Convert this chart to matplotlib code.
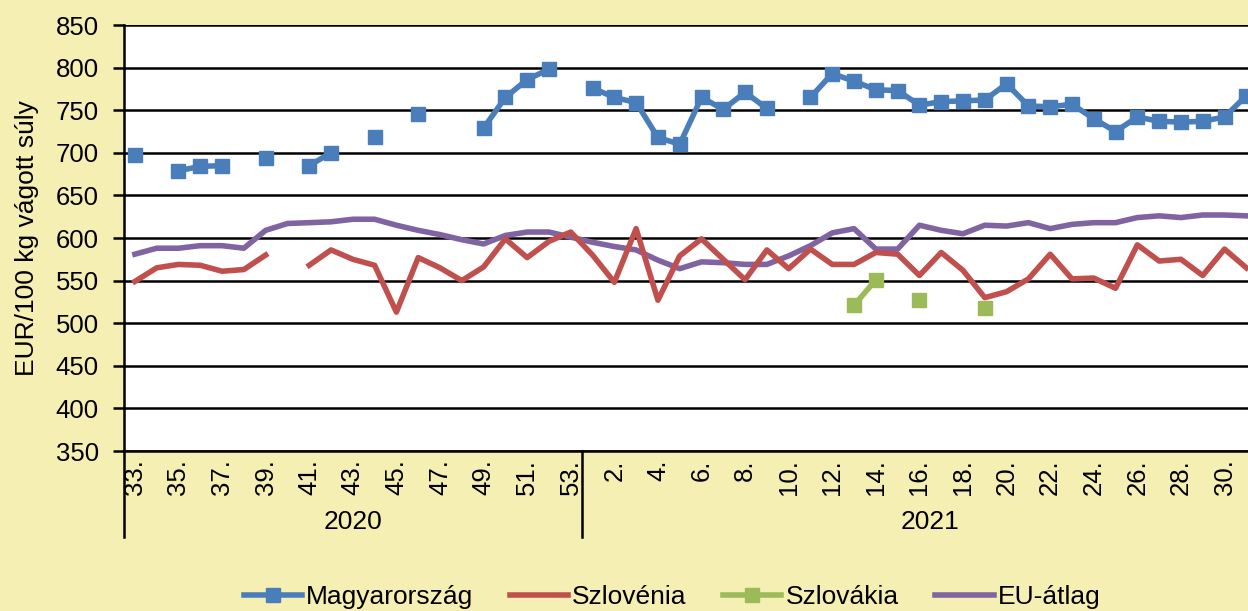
"""Weekly carcass price chart: Hungary, Slovenia, Slovakia and EU average."""

import numpy as np
from matplotlib import pyplot as plt
from matplotlib import transforms

plt.rcParams['font.family'] = ['Liberation Sans', 'DejaVu Sans']

# categories
weeks_2020 = list(range(33, 54))
weeks_2021 = list(range(1, 33))

# EUR/100 kg, one value per week (None = no quotation)
hu_2020 = [697, None, 679, 684, 685, None, 694, None, 685, 700, None, 718, None,
           746, None, None, 729, 765, 786, 798, None]
hu_2021 = [776, 765, 759, 718, 710, 765, 751, 771, 752, None, 765, 793, 784, 774,
           773, 756, 760, 761, 762, 781, 755, 754, 757, 740, 725, 742, 737, 736,
           737, 742, 767, None]

si_2020 = [549, 565, 569, 568, 561, 563, 580, None, 568, 586, 575, 568, 513, 577,
           565, 550, 566, 599, 577, 596, 607]
si_2021 = [580, 548, 611, 527, 579, 599, 575, 551, 586, 564, 587, 569, 569, 583,
           581, 556, 583, 562, 530, 537, 552, 581, 552, 553, 541, 592, 573, 575,
           556, 587, 565, None]

sk_2020 = [None] * 21
sk_2021 = [None] * 12 + [521, 551, None, 527, None, None, 518] + [None] * 13

eu_2020 = [581, 588, 588, 591, 591, 588, 609, 617, 618, 619, 622, 622, 615, 609,
           604, 598, 593, 603, 607, 607, 601]
eu_2021 = [595, 590, 586, 574, 564, 572, 571, 569, 569, 579, 591, 606, 611, 587,
           587, 615, 609, 605, 615, 614, 618, 611, 616, 618, 618, 624, 626, 624,
           627, 627, 626, None]

years = ['2020', '2021']
y_ticks = list(range(350, 851, 50))


def series(a, b):
    return np.array([np.nan if v is None else v for v in a + b], dtype=float)


BG = '#F5EFB3'
W, H = 1248, 611

fig = plt.figure(figsize=(W / 100, H / 100), dpi=100, facecolor=BG)
# plot area runs past the right edge of the figure
ax = fig.add_axes([124 / W, (H - 451) / H, (1279 - 124) / W, (451 - 25) / H])
ax.set_facecolor('white')

labels = [f'{w}.' for w in weeks_2020] + [f'{w}.' for w in weeks_2021]
x = np.arange(len(labels))

ax.plot(x, series(hu_2020, hu_2021), color='#4A7EBB', lw=4, marker='s',
        ms=10.5, mec='#4A7EBB', label='Magyarország', zorder=5)
ax.plot(x, series(si_2020, si_2021), color='#C0504D', lw=4,
        label='Szlovénia', zorder=3)
ax.plot(x, series(sk_2020, sk_2021), color='#9BBB59', lw=4, marker='s',
        ms=10.5, mec='#9BBB59', label='Szlovákia', zorder=4)
ax.plot(x, series(eu_2020, eu_2021), color='#8064A2', lw=4,
        label='EU-átlag', zorder=2)

ax.set_ylim(350, 850)
ax.set_xlim(-0.5, len(labels) - 0.5)
ax.set_yticks(y_ticks)
ax.yaxis.grid(True, color='black', lw=1.8)
ax.set_axisbelow(True)
ax.tick_params(axis='y', labelsize=18.5, length=8, width=1.8, pad=10)
ax.set_ylabel('EUR/100 kg vágott súly', fontsize=19, labelpad=12)

# every other week is labelled; the last one falls outside the figure
ax.set_xticks(x[:-1:2])
ax.set_xticklabels(labels[:-1:2], rotation=90, fontsize=18.5)
ax.tick_params(axis='x', length=0, pad=6)

for side in ['top', 'right']:
    ax.spines[side].set_visible(False)
for side in ['left', 'bottom']:
    ax.spines[side].set_linewidth(1.8)

# year groups under the week labels
trans = transforms.blended_transform_factory(ax.transData, ax.transAxes)
bounds = [-0.5, len(weeks_2020) - 0.5, len(labels) - 0.5]
for xb in bounds:
    ax.plot([xb, xb], [0, -0.202], color='black', lw=1.8, transform=trans,
            clip_on=False)
for year, lo, hi in zip(years, bounds[:-1], bounds[1:]):
    ax.text((lo + hi) / 2, -0.167, year, transform=trans, ha='center',
            va='center', fontsize=19)

fig.legend(loc='center', bbox_to_anchor=(672 / W, 1 - 597 / H), ncol=4,
           frameon=False, fontsize=19, handlelength=2.2, handletextpad=0.15,
           columnspacing=1.4, markerscale=0.9)

fig.savefig('out.png', dpi=100, facecolor=BG)
